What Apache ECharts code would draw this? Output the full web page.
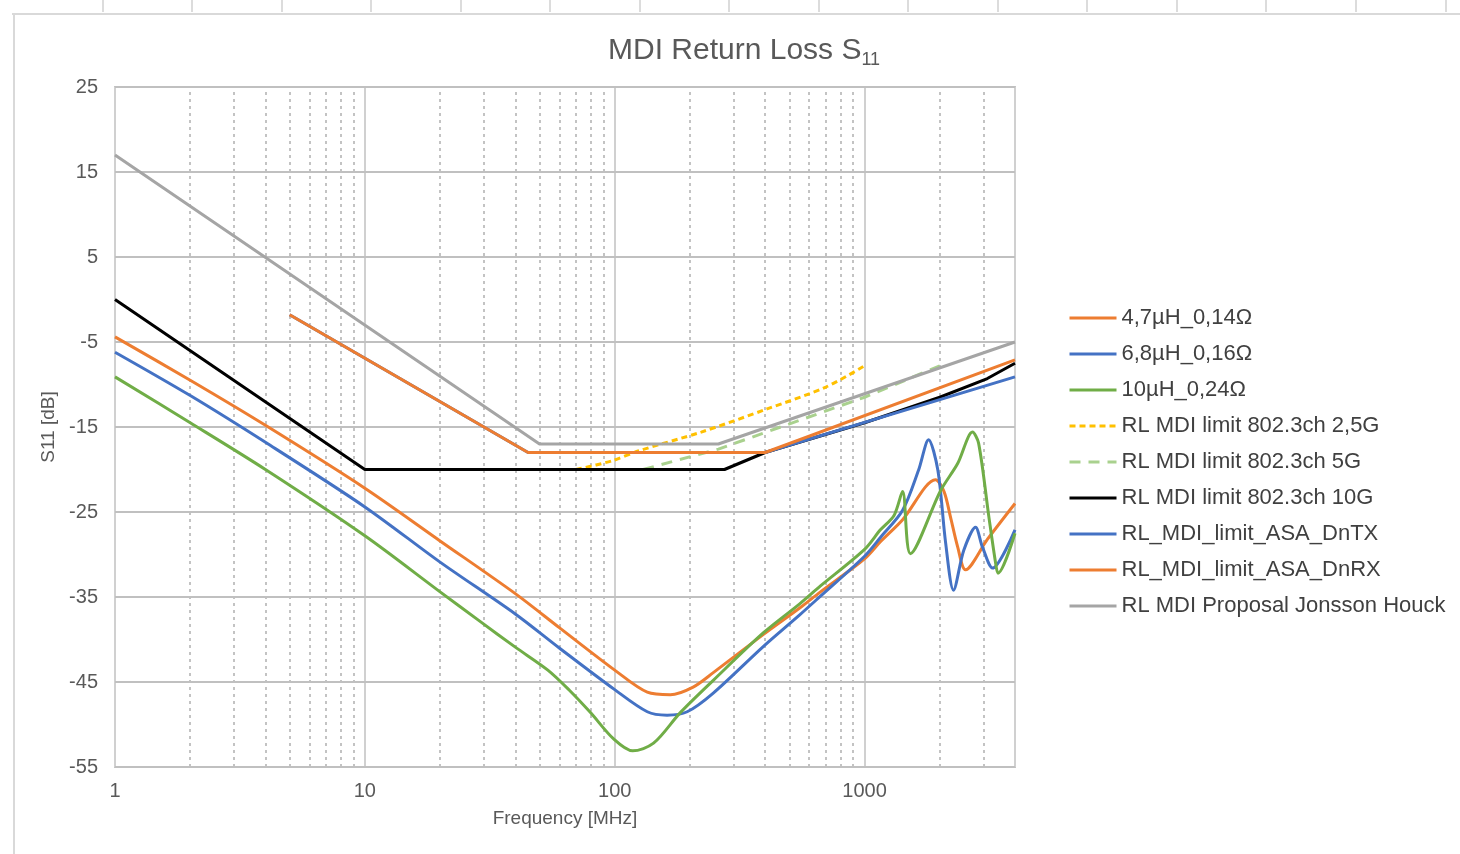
<!DOCTYPE html>
<html>
<head>
<meta charset="utf-8">
<title>MDI Return Loss S11</title>
<script src="https://cdn.jsdelivr.net/npm/echarts@6/dist/echarts.min.js"></script>
<style>
html, body { margin: 0; padding: 0; background: #fff; }
#chart { width: 1460px; height: 854px; }
</style>
</head>
<body>
<div id="chart"></div>
<script>
// axis ticks
const xTicks = [1, 10, 100, 1000]
const xMinor = [2, 3, 4, 5, 6, 7, 8, 9, 20, 30, 40, 50, 60, 70, 80, 90,
  200, 300, 400, 500, 600, 700, 800, 900, 2000, 3000]
const yTicks = [-55, -45, -35, -25, -15, -5, 5, 15, 25]

// measured inductors (MHz / dB)
const f47 = [1, 2, 4, 10, 20, 40, 60, 100, 135, 167, 206, 248, 394, 550, 666, 1000, 1157, 1420, 1923, 2080, 2208, 2358, 2536, 3105, 4000]
const rl47 = [-4.4, -9.5, -14.8, -22.2, -28.4, -34.6, -38.6, -43.6, -46.2, -46.5, -45.6, -43.9, -39.4, -36.3, -34.4, -30.5, -28.5, -25.9, -21.2, -22.6, -25.6, -29.1, -31.8, -28.2, -24.0]

const f68 = [1, 2, 4, 10, 20, 40, 60, 100, 135, 162, 195, 248, 394, 550, 666, 1000, 1157, 1420, 1644, 1804, 1965, 2110, 2270, 2495, 2781, 2962, 3252, 4000]
const rl68 = [-6.2, -11.3, -16.8, -24.4, -30.9, -37.0, -41.0, -45.9, -48.5, -48.9, -48.5, -46.3, -40.8, -37.1, -34.9, -30.2, -28.0, -24.8, -20.1, -16.5, -20.1, -28.6, -34.2, -29.5, -26.8, -29.1, -31.6, -27.1]

const f10 = [1, 2, 4, 10, 20, 29, 40, 54, 66, 80, 99, 118, 143, 183, 248, 394, 550, 666, 1000, 1157, 1312, 1419, 1527, 2014, 2358, 2704, 2860, 3145, 3345, 3420, 4000]
const rl10 = [-9.1, -14.5, -20.0, -27.8, -34.4, -37.9, -40.9, -43.6, -46.0, -48.6, -51.7, -53.1, -52.2, -48.6, -44.8, -39.2, -35.8, -33.7, -29.4, -27.1, -25.4, -22.6, -29.9, -22.5, -19.3, -15.6, -16.9, -25.6, -31.0, -32.2, -27.5]

// limit lines
const fLim25 = [70, 97, 125, 222, 405, 700, 1000]
const rlLim25 = [-20, -19, -17.8, -15.6, -12.9, -10.3, -7.8]
const fLim5 = [130, 260, 1000, 2000]
const rlLim5 = [-20, -17.6, -11.5, -7.8]
const fLim10 = [1, 10, 275, 400, 1000, 2000, 3100, 4000]
const rlLim10 = [0, -20, -20, -18, -14.5, -11.5, -9.3, -7.5]
const fTx = [5, 45, 400, 4000]
const rlTx = [-1.8, -18, -18, -9.1]
const fRx = [5, 45, 400, 4000]
const rlRx = [-1.8, -18, -18, -7.1]
const fJH = [1, 50, 260, 4000]
const rlJH = [17, -17, -17, -5]

const names = ['4,7µH_0,14Ω', '6,8µH_0,16Ω', '10µH_0,24Ω', 'RL MDI limit 802.3ch 2,5G',
  'RL MDI limit 802.3ch 5G', 'RL MDI limit 802.3ch 10G', 'RL_MDI_limit_ASA_DnTX',
  'RL_MDI_limit_ASA_DnRX', 'RL MDI Proposal Jonsson Houck']

const FONT = '"Liberation Sans", Arial, sans-serif'

function pairs(f, v) {
  return f.map((x, i) => [x, v[i]])
}

function line(name, f, v, color, opts) {
  return Object.assign({
    name: name,
    type: 'line',
    data: pairs(f, v),
    symbol: 'none',
    smooth: false,
    lineStyle: { color: color, width: 3 },
    itemStyle: { color: color },
    emphasis: { disabled: true },
    animation: false
  }, opts || {})
}

const chart = echarts.init(document.getElementById('chart'))

const gridLines = xMinor.map(v => ({
  xAxis: v,
  lineStyle: { color: '#b0b0b0', width: 1.5, type: [3, 4] }
})).concat(yTicks.map(v => ({
  yAxis: v,
  lineStyle: { color: '#c0c0c0', width: 2, type: 'solid' }
})))

const colTicks = [103, 192, 282, 371, 461, 550, 640, 729, 819, 908, 998, 1087, 1177, 1266, 1356, 1446]

chart.setOption({
  backgroundColor: '#fff',
  textStyle: { fontFamily: FONT },
  title: {
    text: '{a|MDI Return Loss S}{b|11}',
    left: 603,
    top: 28,
    textStyle: {
      fontWeight: 'normal',
      rich: {
        a: { fontSize: 30, color: '#595959', fontFamily: FONT, fontWeight: 'normal', lineHeight: 36, verticalAlign: 'middle' },
        b: { fontSize: 18, color: '#595959', fontFamily: FONT, fontWeight: 'normal', lineHeight: 18, verticalAlign: 'bottom' }
      }
    }
  },
  graphic: [
    { type: 'line', shape: { x1: 12, y1: 14, x2: 1460, y2: 14 }, style: { stroke: '#d9d9d9', lineWidth: 2 }, silent: true },
    { type: 'line', shape: { x1: 14, y1: 14, x2: 14, y2: 854 }, style: { stroke: '#d9d9d9', lineWidth: 2 }, silent: true }
  ].concat(colTicks.map(x => ({
    type: 'line', shape: { x1: x, y1: 0, x2: x, y2: 12 }, style: { stroke: '#d0d0d0', lineWidth: 1.5 }, silent: true
  }))),
  legend: {
    data: names,
    orient: 'vertical',
    left: 1068,
    top: 306,
    padding: 0,
    itemWidth: 47,
    itemHeight: 14,
    itemGap: 12,
    itemStyle: { opacity: 0 },
    lineStyle: { width: 3 },
    textStyle: { fontSize: 22, color: '#404040', fontFamily: FONT, lineHeight: 24 }
  },
  grid: {
    left: 115,
    right: 445,
    top: 87,
    bottom: 87,
    show: true,
    borderColor: '#c4c4c4',
    borderWidth: 2
  },
  xAxis: {
    type: 'log',
    logBase: 10,
    min: 1,
    max: 4000,
    name: 'Frequency [MHz]',
    nameLocation: 'middle',
    nameGap: 42,
    nameTextStyle: { fontSize: 19, color: '#595959', fontFamily: FONT },
    axisLine: { show: false },
    axisTick: { show: false },
    axisLabel: {
      fontSize: 20,
      color: '#595959',
      margin: 14,
      showMaxLabel: false,
      formatter: v => {
        const t = xTicks.find(t => Math.abs(t - v) / t < 1e-6)
        return t === undefined ? '' : String(t)
      }
    },
    splitLine: { show: true, lineStyle: { color: '#d0d0d0', width: 2 } }
  },
  yAxis: {
    type: 'value',
    min: -55,
    max: 25,
    interval: 5,
    name: 'S11 [dB]',
    nameLocation: 'middle',
    nameGap: 57,
    nameTextStyle: { fontSize: 19, color: '#595959', fontFamily: FONT },
    axisLine: { show: false },
    axisTick: { show: false },
    axisLabel: {
      fontSize: 20,
      color: '#595959',
      margin: 17,
      formatter: v => (yTicks.indexOf(v) >= 0 ? String(v) : '')
    },
    splitLine: { show: false }
  },
  series: [
    {
      name: 'grid',
      type: 'line',
      data: [],
      silent: true,
      animation: false,
      markLine: {
        z: 1,
        silent: true,
        animation: false,
        symbol: ['none', 'none'],
        label: { show: false },
        emphasis: { disabled: true },
        data: gridLines
      }
    },
    line(names[0], f47, rl47, '#ED7D31', { smooth: 0.3 }),
    line(names[1], f68, rl68, '#4472C4', { smooth: 0.3 }),
    line(names[2], f10, rl10, '#70AD47', { smooth: 0.3 }),
    line(names[3], fLim25, rlLim25, '#FFC000', { smooth: 0.3, lineStyle: { color: '#FFC000', width: 3, type: [6, 4] } }),
    line(names[4], fLim5, rlLim5, '#A9D18E', { lineStyle: { color: '#A9D18E', width: 3, type: [11, 8] } }),
    line(names[5], fLim10, rlLim10, '#000000'),
    line(names[6], fTx, rlTx, '#4472C4'),
    line(names[7], fRx, rlRx, '#ED7D31'),
    line(names[8], fJH, rlJH, '#A5A5A5')
  ]
})
</script>
</body>
</html>
